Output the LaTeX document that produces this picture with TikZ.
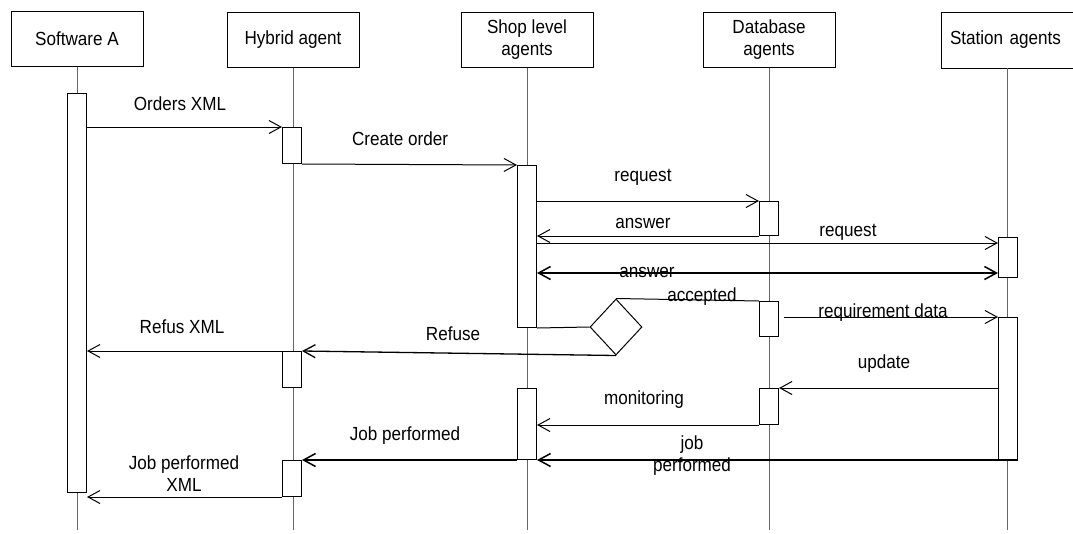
\documentclass[tikz,border=0pt]{standalone}
\usepackage{fontspec}
\setmainfont{Liberation Sans}[FakeStretch=0.9]
\usetikzlibrary{arrows.meta, shapes.geometric}

\begin{document}
\begin{tikzpicture}[x=1pt, y=-1pt, >={Straight Barb[length=12pt,width=13pt]}, line width=1pt,
  font=\fontsize{19}{22}\selectfont]
  \tikzset{
    cabeza/.style={draw, minimum width=132, minimum height=55, align=center, inner sep=0},
    barra/.style={draw, fill=white, minimum width=19, inner sep=0, anchor=north},
    vida/.style={gray!80!black},
    lbl/.style={inner sep=1pt}
  }
  \useasboundingbox (0,0) rectangle (1073,533);
  \coordinate (fondo) at (0,530);
  % cabeceras de los participantes
  \node[cabeza] (sw) at (77,39) {Software A};
  \node[cabeza] (hy) at (293,40) {Hybrid agent};
  \node[cabeza] (sh) at (527,40) {Shop level\\agents};
  \node[cabeza] (db) at (769,40) {Database\\agents};
  % la caja de la derecha queda cortada por el borde
  \node[cabeza, draw=none, minimum width=131, text width=115, align=left] (st) at (1007.5,40) {Station agents};
  \draw (st.north east) -- (st.north west) -- (st.south west) -- (st.south east);
  % lineas de vida
  \foreach \p in {sw,hy,sh,db}
    \draw[vida] (\p.south) -- (\p.south |- fondo);
  \coordinate (stv) at ([xshift=66pt]st.south west);
  \draw[vida] (stv) -- (stv |- fondo);
  % barras de activacion
  \node[barra, minimum height=399] (swA) at (77,93) {};
  \node[barra, minimum height=36] (hyA) at (292,127) {};
  \node[barra, minimum height=36] (hyB) at (292,351) {};
  \node[barra, minimum height=36] (hyC) at (292,460) {};
  \node[barra, minimum height=162] (shA) at (527,165) {};
  \node[barra, minimum height=71] (shB) at (527,388) {};
  \node[barra, minimum height=34] (dbA) at (769,201) {};
  \node[barra, minimum height=35] (dbB) at (769,301) {};
  \node[barra, minimum height=36] (dbC) at (769,388) {};
  \node[barra, minimum height=40] (stA) at (1008,237) {};
  \node[barra, minimum height=142] (stB) at (1008,317) {};
  \node[draw, diamond, fill=white, minimum width=52, minimum height=56, inner sep=0] (dec) at (616,327) {};
  % mensajes
  \coordinate (r2) at (0,243);
  \coordinate (a2) at (0,273);
  \coordinate (rd) at (784,317);
  \draw[->] (swA.east |- hyA.north) -- (hyA.north west);
  \draw[->] (hyA.south east) -- (shA.north west);
  \draw[->] (shA.east |- dbA.north) -- (dbA.north west);
  \draw[->] (dbA.south west) -- (shA.east |- dbA.south);
  \draw[->] (shA.east |- r2) -- (stA.west |- r2);
  \draw[<->, line width=1.5pt] (stA.west |- a2) -- (shA.east |- a2);
  \draw (shA.south east) -- (dec.west);
  \draw (dec.north) -- (dbB.north west);
  \draw[->] (rd) -- (stB.north west);
  \draw[->, line width=1.3pt] (dec.south) -- (hyB.north east);
  \draw[->] (hyB.north west) -- (swA.east |- hyB.north);
  \draw[->] (stB.west |- dbC.north) -- (dbC.north east);
  \draw[->] (dbC.south west) -- (shB.east |- dbC.south);
  \draw[->, line width=1.5pt] (stB.south east) -- (shB.east |- stB.south);
  \draw[->, line width=1.5pt] (shB.south west) -- (hyC.north east);
  \draw[->] (hyC.south west) -- (swA.east |- hyC.south);
  % textos de los mensajes
  \node[lbl] (tOrd) at (180,104) {Orders XML};
  \node[lbl] (tCre) at (400,139) {Create order};
  \node[lbl] (tReq) at (643,177) {request};
  \node[lbl] (tAns) at (643,223) {answer};
  \node[lbl] (tReq2) at (848,232) {request};
  \node[lbl] (tAns2) at (647,272) {answer};
  \node[lbl] (tAcc) at (702,297) {accepted};
  \node[lbl] (tRd) at (883,313) {requirement data};
  \node[lbl] (tRfx) at (182,327) {Refus XML};
  \node[lbl] (tRef) at (453,334) {Refuse};
  \node[lbl] (tUpd) at (884,364) {update};
  \node[lbl] (tMon) at (644,400) {monitoring};
  \node[lbl] (tJob) at (405,436) {Job performed};
  \node[lbl, align=center] (tJob2) at (692,456) {job\\performed};
  \node[lbl, align=center] (tJobx) at (184,474) {Job performed\\XML};
\end{tikzpicture}
\end{document}
